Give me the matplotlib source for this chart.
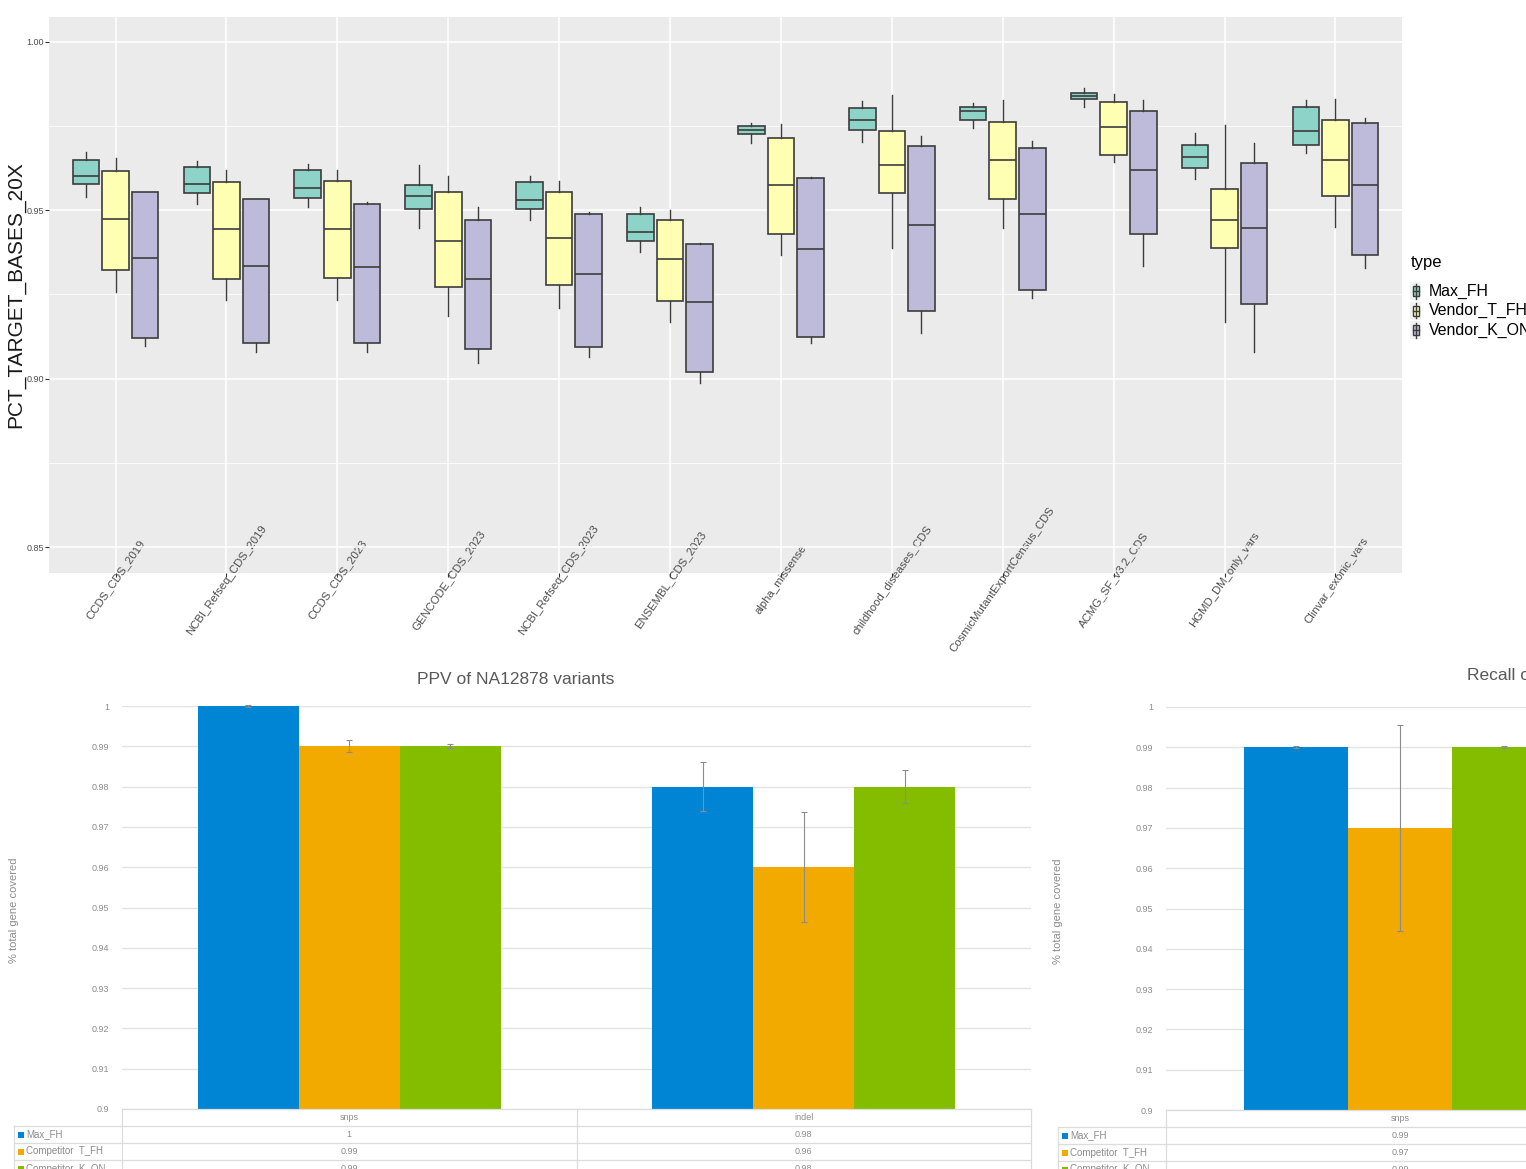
import matplotlib.pyplot as plt
import numpy as np
from matplotlib.patches import Rectangle
from matplotlib.lines import Line2D
from matplotlib.transforms import Affine2D

plt.rcParams['font.family'] = ['Liberation Sans', 'DejaVu Sans']

W, H = 1526, 1169

# ---- target coverage per region (boxplots) ----
regions = ['CCDS_CDS_2019', 'NCBI_Refseq_CDS_2019', 'CCDS_CDS_2023', 'GENCODE_CDS_2023',
           'NCBI_Refseq_CDS_2023', 'ENSEMBL_CDS_2023', 'alpha_missense',
           'childhood_diseases_CDS', 'CosmicMutantExportCensus_CDS', 'ACMG_SF_v3.2_CDS',
           'HGMD_DM_only_vars', 'Clinvar_exonic_vars']
types = ['Max_FH', 'Vendor_T_FH', 'Vendor_K_ON']
type_colors = ['#8DD3C7', '#FFFFB3', '#BEBADA']

# lower whisker, q1, median, q3, upper whisker
cov_max_fh = [
    (0.9540, 0.9579, 0.9602, 0.9650, 0.9674),
    (0.9519, 0.9552, 0.9579, 0.9629, 0.9647),
    (0.9510, 0.9537, 0.9567, 0.9620, 0.9638),
    (0.9448, 0.9504, 0.9543, 0.9576, 0.9635),
    (0.9472, 0.9504, 0.9531, 0.9585, 0.9602),
    (0.9377, 0.9410, 0.9436, 0.9490, 0.9510),
    (0.9700, 0.9727, 0.9739, 0.9751, 0.9760),
    (0.9703, 0.9739, 0.9769, 0.9804, 0.9825),
    (0.9745, 0.9769, 0.9795, 0.9807, 0.9819),
    (0.9807, 0.9831, 0.9840, 0.9849, 0.9864),
    (0.9593, 0.9626, 0.9659, 0.9694, 0.9730),
    (0.9671, 0.9694, 0.9736, 0.9807, 0.9828),
]
cov_vendor_t = [
    (0.9258, 0.9323, 0.9475, 0.9617, 0.9656),
    (0.9234, 0.9297, 0.9445, 0.9585, 0.9620),
    (0.9234, 0.9300, 0.9445, 0.9588, 0.9620),
    (0.9187, 0.9273, 0.9410, 0.9555, 0.9602),
    (0.9211, 0.9279, 0.9418, 0.9555, 0.9588),
    (0.9169, 0.9231, 0.9356, 0.9472, 0.9501),
    (0.9368, 0.9430, 0.9576, 0.9715, 0.9757),
    (0.9389, 0.9552, 0.9635, 0.9736, 0.9843),
    (0.9448, 0.9534, 0.9650, 0.9763, 0.9828),
    (0.9644, 0.9665, 0.9748, 0.9822, 0.9846),
    (0.9169, 0.9389, 0.9472, 0.9564, 0.9754),
    (0.9451, 0.9543, 0.9650, 0.9769, 0.9831),
]
cov_vendor_k = [
    (0.9098, 0.9122, 0.9359, 0.9555, 0.9555),
    (0.9080, 0.9107, 0.9335, 0.9534, 0.9534),
    (0.9080, 0.9107, 0.9332, 0.9519, 0.9525),
    (0.9047, 0.9089, 0.9297, 0.9472, 0.9510),
    (0.9065, 0.9095, 0.9312, 0.9490, 0.9496),
    (0.8988, 0.9021, 0.9228, 0.9401, 0.9404),
    (0.9107, 0.9125, 0.9386, 0.9596, 0.9599),
    (0.9136, 0.9202, 0.9457, 0.9691, 0.9721),
    (0.9240, 0.9264, 0.9490, 0.9685, 0.9706),
    (0.9335, 0.9430, 0.9620, 0.9795, 0.9828),
    (0.9080, 0.9223, 0.9448, 0.9641, 0.9700),
    (0.9329, 0.9368, 0.9576, 0.9760, 0.9774),
]

# ---- NA12878 variant calling ----
callers = ['Max_FH', 'Competitor  T_FH', 'Competitor  K_ON']
caller_colors = ['#0084D4', '#F2A900', '#84BD00']
ppv_classes = ['snps', 'indel']
ppv_vals = [[1.00, 0.98], [0.99, 0.96], [0.99, 0.98]]
ppv_err = [[0.0002, 0.006], [0.0015, 0.0137], [0.0005, 0.004]]
recall_classes = ['snps']
recall_vals = [[0.99], [0.97], [0.99]]
recall_err = [[0.0002], [0.0255], [0.0002]]

fig = plt.figure(figsize=(W / 100, H / 100), dpi=100)
px = Affine2D().scale(1 / W, -1 / H).translate(0, 1) + fig.transFigure


def rect(x0, y0, x1, y1):
    return [x0 / W, 1 - y1 / H, (x1 - x0) / W, (y1 - y0) / H]


# ---------------- boxplot panel ----------------
edge = '#3C3C3C'
ax = fig.add_axes(rect(49, 17, 1402, 573))
ax.set_facecolor('#EBEBEB')
pos = np.arange(1, len(regions) + 1)
dodge = 0.8 / 3
for j, (data, col) in enumerate(zip([cov_max_fh, cov_vendor_t, cov_vendor_k], type_colors)):
    stats = [dict(whislo=a, q1=b, med=c, q3=d, whishi=e) for a, b, c, d, e in data]
    ax.bxp(stats, positions=pos + (j - 1) * dodge, widths=0.24, patch_artist=True,
           showfliers=False, showcaps=False, manage_ticks=False, zorder=3,
           boxprops=dict(facecolor=col, edgecolor=edge, linewidth=1.2),
           medianprops=dict(color=edge, linewidth=1.2),
           whiskerprops=dict(color=edge, linewidth=1.0))
ax.set_xlim(0.4, len(regions) + 0.6)
ax.set_ylim(0.8423, 1.0074)
ax.set_yticks([0.85, 0.90, 0.95, 1.00])
ax.set_yticklabels(['0.85', '0.90', '0.95', '1.00'])
ax.set_yticks([0.875, 0.925, 0.975], minor=True)
ax.set_xticks(pos)
ax.grid(which='major', color='white', lw=1.1)
ax.grid(which='minor', axis='y', color='white', lw=0.6)
ax.set_axisbelow(True)
for s in ax.spines.values():
    s.set_visible(False)
ax.tick_params(which='major', length=3, width=0.8, color='#333333')
ax.tick_params(which='minor', length=0)
ax.tick_params(axis='x', pad=2)
ax.tick_params(axis='y', pad=0.8, labelsize=6.5, labelcolor='#4D4D4D')
ax.set_xticklabels(regions, rotation=55, ha='center', va='center', fontsize=8.2, color='#4D4D4D')
fig.text(16, 295, 'PCT_TARGET_BASES_20X', transform=px, rotation=90, fontsize=15,
         ha='center', va='center', color='#1A1A1A')

# legend
fig.text(1411, 262, 'type', transform=px, fontsize=12, va='center', ha='left')
for j, (name, col) in enumerate(zip(types, type_colors)):
    yc = 291 + j * 19.5
    fig.add_artist(Rectangle((1410, yc - 9), 11, 18, transform=px, fc='#F2F2F2', ec='none'))
    fig.add_artist(Line2D([1415.5, 1415.5], [yc - 7.5, yc + 7.5], transform=px, color=edge, lw=1))
    fig.add_artist(Rectangle((1412.5, yc - 5), 6, 10, transform=px, fc=col, ec=edge, lw=1))
    fig.add_artist(Line2D([1412.5, 1418.5], [yc, yc], transform=px, color=edge, lw=1))
    fig.text(1429, yc, name, transform=px, fontsize=11.4, va='center', ha='left')


# ---------------- bar charts with data tables ----------------
def bar_panel(x0, x1, y0, y1, tab_left, ncols, classes, vals, errs, title, title_x, title_y, title_ha):
    ax = fig.add_axes(rect(x0, y0, x1, y1))
    bw = 2 / 9
    xs = np.arange(len(classes))
    for j in range(len(callers)):
        xj = xs + (j - 1) * bw
        ax.bar(xj, vals[j], width=bw, color=caller_colors[j], zorder=2)
        ax.errorbar(xj, vals[j], yerr=errs[j], fmt='none', ecolor='#8C8C8C', elinewidth=0.8,
                    capsize=2.5, capthick=0.8, zorder=3, clip_on=False)
    ax.set_xlim(-0.5, ncols - 0.5)
    ax.set_ylim(0.9, 1.0)
    ticks = np.round(np.arange(0.9, 1.0001, 0.01), 2)
    ax.set_yticks(ticks)
    ax.set_yticklabels([f'{t:g}' for t in ticks])
    ax.set_xticks([])
    ax.grid(axis='y', color='#E3E3E3', lw=1)
    ax.set_axisbelow(True)
    for s in ax.spines.values():
        s.set_visible(False)
    ax.tick_params(axis='y', length=0, pad=9, labelsize=6.5, labelcolor='#8C8C8C')

    fig.text(title_x, title_y, title, transform=px, fontsize=12.5, color='#595959',
             ha=title_ha, va='center')
    fig.text(tab_left, (y0 + y1) / 2 + 3, '% total gene covered', transform=px, rotation=90,
             fontsize=8, color='#8C8C8C', ha='center', va='center')

    # data table under the plot
    cw = (x1 - x0) / ncols
    rows = [y1, y1 + 17, y1 + 34, y1 + 51, y1 + 68]
    lc = '#DCDCDC'
    fig.add_artist(Line2D([x0, x1], [rows[0], rows[0]], transform=px, color=lc, lw=0.9))
    for r in rows[1:]:
        fig.add_artist(Line2D([tab_left, x1], [r, r], transform=px, color=lc, lw=0.9))
    fig.add_artist(Line2D([tab_left, tab_left], [rows[1], rows[-1]], transform=px, color=lc, lw=0.9))
    for c in range(ncols + 1):
        xc = x0 + c * cw
        fig.add_artist(Line2D([xc, xc], [rows[0], rows[-1]], transform=px, color=lc, lw=0.9))
    for c, name in enumerate(classes):
        xc = x0 + (c + 0.5) * cw
        fig.text(xc, (rows[0] + rows[1]) / 2, name, transform=px, fontsize=6.5,
                 color='#8C8C8C', ha='center', va='center')
        for j in range(len(callers)):
            fig.text(xc, (rows[j + 1] + rows[j + 2]) / 2, f'{vals[j][c]:g}', transform=px,
                     fontsize=6.5, color='#8C8C8C', ha='center', va='center')
    for j, name in enumerate(callers):
        yc = (rows[j + 1] + rows[j + 2]) / 2
        fig.add_artist(Rectangle((tab_left + 3.5, yc - 3), 6, 6, transform=px,
                                 fc=caller_colors[j], ec='none'))
        fig.text(tab_left + 12, yc, name, transform=px, fontsize=7, color='#8C8C8C',
                 ha='left', va='center')
    return ax


bar_panel(122, 1031, 706, 1109, 14, 2, ppv_classes, ppv_vals, ppv_err,
          'PPV of NA12878 variants', 516, 680, 'center')
bar_panel(1166, 1166 + 2 * 468, 707, 1110, 1058, 2, recall_classes, recall_vals, recall_err,
          'Recall of NA12878 variants', 1467, 676, 'left')

fig.savefig('out.png', dpi=100)
